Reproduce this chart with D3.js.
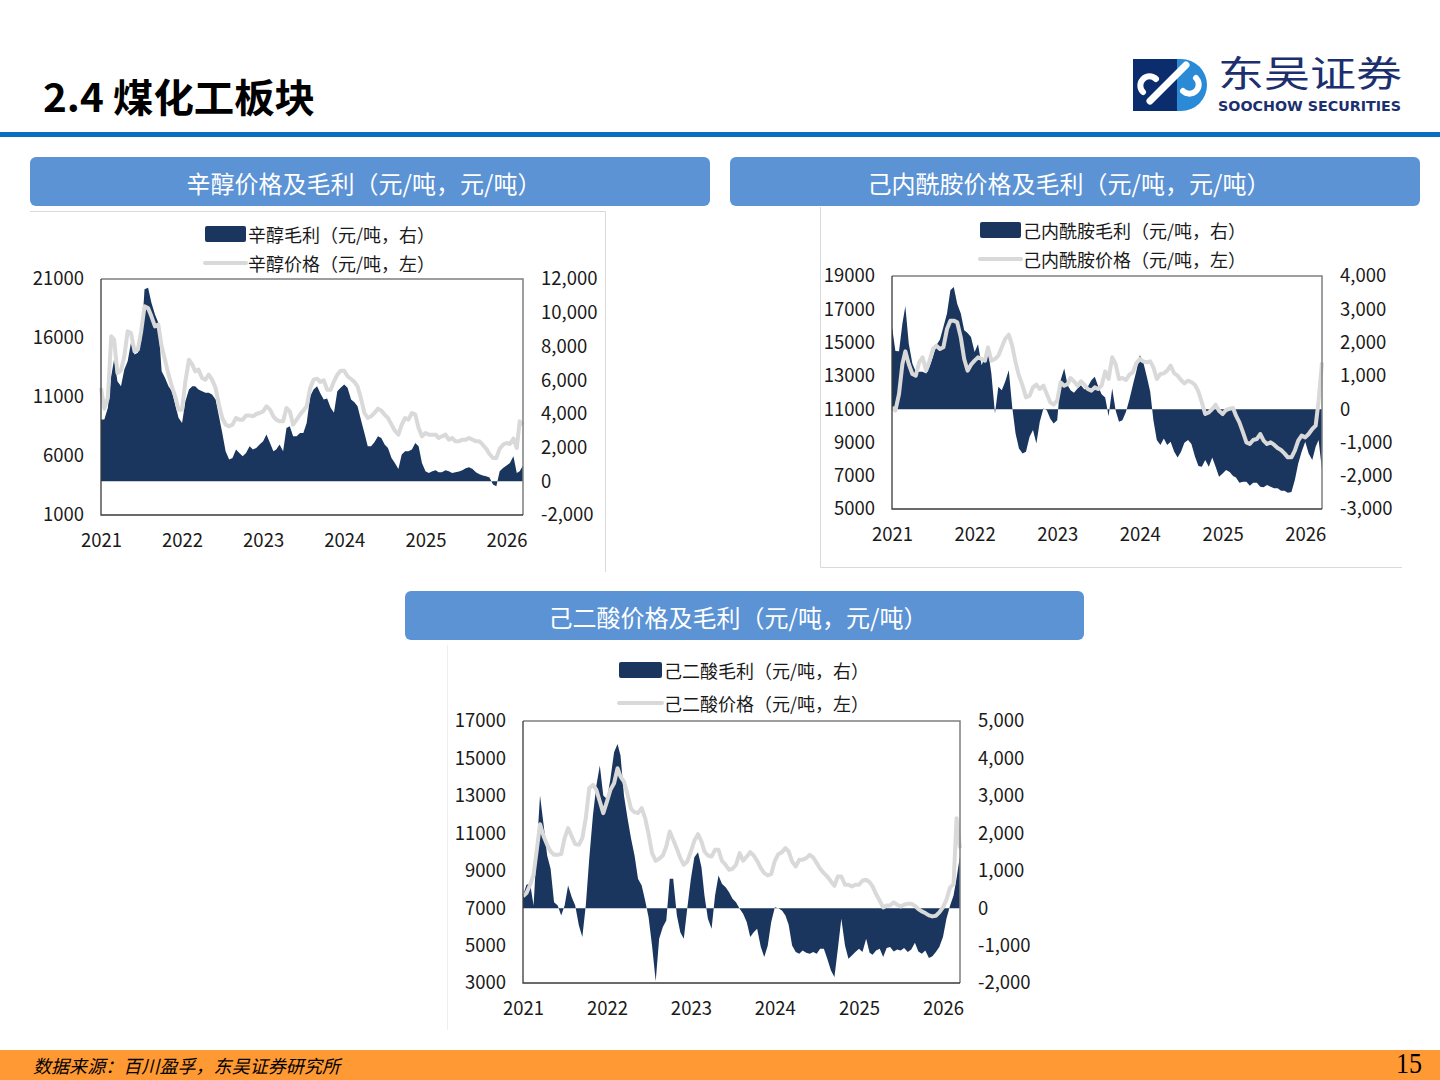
<!DOCTYPE html>
<html>
<head>
  <meta charset="utf-8">
  <style>
    body { margin: 0; background: #fff; }
    svg { display: block; font-family: "Noto Sans CJK SC", "Noto Sans", sans-serif; }
    .tick text { fill: #1a1a1a; }
  </style>
</head>
<body>
  <div id="page"></div>

  <script src="https://d3js.org/d3.v7.min.js"></script>

  <script>
    // half-month grid, Jan 2021 - mid Mar 2026
    var months = d3.timeMonths(new Date(2021, 0, 1), new Date(2026, 3, 1));
    var dates = months.flatMap(m => [m, new Date(m.getFullYear(), m.getMonth(), 16)]);
    var years = [2021, 2022, 2023, 2024, 2025, 2026];

    // 辛醇 (octanol)
    var octanolPrice = [11764,10012,10916,16142,15860,13035,13232,14447,16566,16425,14871,15013,16566,18685,18543,17837,16990,17131,15295,14165,12894,11905,11057,9927,9927,12329,14165,13740,13176,13317,12611,12470,12894,12470,11764,10351,9221,8656,8515,8656,9221,9080,9080,9441,9441,9363,9559,9645,9786,10210,9927,9363,9080,8939,8939,10069,9786,8656,9080,9504,9843,10210,11764,12470,
      12555,12273,12414,11622,11622,12329,12894,13232,13232,12753,12527,12273,11905,10916,9645,9221,9363,9645,10012,9843,9504,9221,8656,8148,7809,8656,9221,9080,9645,9504,8373,7668,7950,7809,7809,7809,7526,7668,7809,7385,7526,7244,7244,7385,7385,7526,7385,7244,7244,6961,6622,6170,5831,5831,6622,6961,7102,7018,7470,6679,8939,8656];
    var octanolProfit = [3663,3663,4356,6237,7227,5940,5643,6633,7128,8217,7524,7623,8316,11385,11484,10593,9900,9405,6534,6138,5643,5346,4554,3762,3465,4752,5445,5643,5643,5445,5346,5247,5247,5148,4851,3861,2871,1782,1287,1386,1881,1683,1485,1683,2079,1881,1980,2178,2376,2772,2277,1782,1881,2178,1782,3168,3267,2673,2673,2871,2871,3465,5049,5445,
      5643,5207,4851,4910,4356,4059,5346,5544,5742,5544,4851,4693,4455,3663,2871,2079,2079,2317,2673,2574,2178,1980,1386,1089,733,1584,1782,1782,1881,2277,2079,1089,594,495,594,653,535,535,653,594,495,535,574,653,772,832,733,535,416,337,297,218,-198,-297,594,792,931,1089,1485,495,594,931];

    // 己内酰胺 (caprolactam)
    var caproPrice = [11108,10908,11909,13712,14473,13712,13111,13011,13812,14112,13311,13912,14613,14814,14613,14714,15815,16316,16316,16216,15314,14013,13312,13672,13912,14113,14012,13912,14713,13912,14012,14213,14713,15214,15475,14814,13812,13011,12410,11709,11809,12310,12470,12210,12410,11909,11409,11268,11509,12610,12410,12510,12871,12670,12410,12670,12470,12210,12110,12310,12210,12410,
      13271,12811,14113,13712,12811,12871,12751,13071,13211,13752,14012,13872,13812,13872,13512,12811,13111,13151,13312,13612,13151,13011,12751,12550,12710,12630,12450,12050,11409,10707,10807,11008,11268,10908,10707,10948,11028,11068,10607,10207,9606,9005,8905,9145,9205,9506,9105,8905,9005,8865,8664,8544,8344,8104,8104,8504,9105,9406,9305,9506,9806,10007,11509,13800];
    var caproProfit = [2470,1750,1740,2570,3090,1970,1370,1120,1120,1120,1070,1270,1570,1920,2090,2470,2870,3570,3670,3170,2870,2370,2290,2170,1720,1950,1320,1570,1770,1070,-130,670,570,820,1170,70,-730,-1180,-1330,-1280,-830,-630,-1030,-380,20,-30,-280,-430,-330,870,1220,720,570,490,620,720,590,670,870,970,690,450,
      350,-210,620,-30,-380,-330,-80,290,720,1120,1620,1420,970,520,-330,-930,-1080,-880,-1080,-980,-1280,-1450,-1280,-1010,-930,-1050,-1430,-1710,-1730,-1530,-1730,-1450,-1730,-2030,-1930,-1830,-1890,-2010,-2050,-2210,-2180,-2180,-2300,-2210,-2210,-2330,-2350,-2280,-2330,-2380,-2380,-2450,-2450,-2510,-2490,-2130,-1630,-1280,-980,-1330,-1530,-1130,-930,-1830];

    // 己二酸 (adipic acid)
    var adipicPrice = [7626,7804,8249,8783,10028,11487,10829,10384,10028,9850,9850,9886,10740,11274,10829,10420,10384,10740,11807,13408,13586,13319,12697,12074,12697,13319,13675,14476,14031,13764,13052,12305,12127,12074,12341,11807,10953,9939,9530,9637,9815,10295,11096,10651,10171,9672,9317,9494,10028,10597,10953,10562,10028,9815,9761,10117,10117,9530,9317,9050,9103,9317,9939,
      9530,9761,9993,9815,9530,9139,8872,8747,8819,9530,9886,9993,10206,10028,9495,9228,9583,9583,9672,9850,9708,9405,9103,8872,8694,8427,8196,8694,8694,8249,8249,8160,8249,8249,8463,8516,8391,8160,7751,7395,7039,7146,7146,7306,7181,7093,7181,7234,7234,7128,6950,6826,6737,6612,6559,6594,6772,7039,7448,8107,8285,11800,10200];
    var adipicProfit = [338,623,650,71,1495,3008,2207,1406,1050,160,71,-196,71,605,294,71,-463,-774,71,1317,2474,3275,3809,3008,2919,3453,4165,4388,4076,3008,2385,1851,1406,783,605,205,-240,-997,-1950,-819,-507,-329,783,783,-196,-641,-819,-18,783,1362,1495,1095,338,-285,-552,338,872,650,561,427,249,160,-18,
      -151,-374,-774,-641,-552,-1041,-1308,-1006,-374,27,0,-62,-196,-445,-997,-1175,-1219,-1130,-1193,-1219,-1175,-1219,-1086,-1086,-1353,-1664,-1842,-1086,-285,-997,-1353,-1264,-1175,-1086,-1175,-819,-1193,-1246,-1130,-1086,-1308,-1068,-1041,-1157,-1104,-1130,-1068,-1175,-1104,-926,-1157,-1219,-1130,-1335,-1282,-1175,-1041,-774,-285,71,338,800,1400];

    var navy = '#1a365e', grey = '#d9d9d9', panelBlue = '#5b93d5';

    var svg = d3.select('#page')
        .append('svg')
        .attr('width', 1440)
        .attr('height', 1080);

    // ---- page header ----
    svg.append('text')
        .attr('x', 43).attr('y', 112)
        .attr('font-size', 39).attr('font-weight', 700)
        .attr('fill', '#000')
        .attr('textLength', 272).attr('lengthAdjust', 'spacingAndGlyphs')
        .text('2.4 煤化工板块');

    svg.append('rect')
        .attr('x', 0).attr('y', 132).attr('width', 1440).attr('height', 5)
        .attr('fill', '#0a6fc2');

    // logo
    var logo = svg.append('g');
    logo.append('path')
        .attr('d', 'M1168,59 H1181 A26,26 0 0 1 1181,111 H1168 Z')
        .attr('fill', '#2a8ad6');
    logo.append('rect')
        .attr('x', 1133).attr('y', 59).attr('width', 44).attr('height', 52)
        .attr('fill', '#0b2d6e');
    logo.append('path')
        .attr('d', 'M1150,101 L1172,79 M1168,83 L1186,65')
        .attr('stroke', '#fff').attr('stroke-width', 7).attr('stroke-linecap', 'round')
        .attr('fill', 'none');
    logo.append('path')
        .attr('d', 'M1143,92 A9,9 0 0 1 1156,79 M1196,78 A9,9 0 0 1 1183,91')
        .attr('stroke', '#fff').attr('stroke-width', 6).attr('stroke-linecap', 'round')
        .attr('fill', 'none');
    logo.append('text')
        .attr('x', 1218).attr('y', 87)
        .attr('font-size', 36).attr('fill', '#1c2f6e')
        .attr('textLength', 184).attr('lengthAdjust', 'spacingAndGlyphs')
        .text('东吴证券');
    logo.append('text')
        .attr('x', 1218).attr('y', 111)
        .attr('font-size', 13.5).attr('font-weight', 700).attr('fill', '#1c2f6e')
        .attr('font-family', '"DejaVu Sans", sans-serif')
        .attr('textLength', 183).attr('lengthAdjust', 'spacingAndGlyphs')
        .text('SOOCHOW SECURITIES');

    // ---- footer ----
    svg.append('rect')
        .attr('x', 0).attr('y', 1050).attr('width', 1440).attr('height', 30)
        .attr('fill', '#ff9933');
    svg.append('text')
        .attr('x', 33).attr('y', 1073)
        .attr('font-size', 18).attr('font-style', 'italic').attr('fill', '#000')
        .attr('textLength', 307).attr('lengthAdjust', 'spacingAndGlyphs')
        .text('数据来源：百川盈孚，东吴证券研究所');
    svg.append('text')
        .attr('x', 1422).attr('y', 1073).attr('text-anchor', 'end')
        .attr('font-size', 30).attr('fill', '#000')
        .attr('font-family', '"Liberation Serif", serif')
        .attr('textLength', 26).attr('lengthAdjust', 'spacingAndGlyphs')
        .text('15');

    // ---- panel headers ----
    function panel(x, y, w, tx, label) {
      svg.append('rect')
          .attr('x', x).attr('y', y).attr('width', w).attr('height', 49)
          .attr('rx', 6).attr('fill', panelBlue);
      svg.append('text')
          .attr('x', tx).attr('y', y + 25)
          .attr('text-anchor', 'middle').attr('dominant-baseline', 'central')
          .attr('font-size', 24).attr('fill', '#fff')
          .text(label);
    }
    panel(30, 157, 680, 364, '辛醇价格及毛利（元/吨，元/吨）');
    panel(730, 157, 690, 1069, '己内酰胺价格及毛利（元/吨，元/吨）');
    panel(405, 591, 679, 738, '己二酸价格及毛利（元/吨，元/吨）');

    // faint frames around the chart pictures
    svg.append('path')
        .attr('d', 'M30,211.5 H605.5 V572')
        .attr('stroke', '#d9d9d9').attr('fill', 'none');
    svg.append('path')
        .attr('d', 'M820.5,207 V567.5 H1402')
        .attr('stroke', '#d9d9d9').attr('fill', 'none');
    svg.append('path')
        .attr('d', 'M447.5,645 V1030')
        .attr('stroke', '#eeeeee').attr('fill', 'none');

    var fmtRight = v => d3.format(',')(v).replace('−', '-');

    function drawChart(c) {
      var x = d3.scaleTime()
          .domain([new Date(2021, 0, 1), new Date(2026, 2, 16)])
          .range([c.x0, c.x1]);
      var yL = d3.scaleLinear().domain(c.leftDomain).range([c.y1, c.y0]);
      var yR = d3.scaleLinear().domain(c.rightDomain).range([c.y1, c.y0]);

      var g = svg.append('g');

      var profit = dates.map((d, i) => ({date: d, v: c.profit[i]}));
      var price = dates.map((d, i) => ({date: d, v: c.price[i]}));

      g.append('path')
          .datum(profit)
          .attr('fill', navy)
          .attr('d', d3.area()
              .x(d => x(d.date))
              .y0(yR(0))
              .y1(d => yR(d.v)));

      g.append('path')
          .datum(price)
          .attr('fill', 'none')
          .attr('stroke', grey)
          .attr('stroke-width', 4)
          .attr('stroke-linejoin', 'round')
          .attr('d', d3.line()
              .x(d => x(d.date))
              .y(d => yL(d.v)));

      // plot frame: grey top/right, dark left/bottom
      g.append('path')
          .attr('d', `M${c.x0},${c.y0} H${c.x1} V${c.y1}`)
          .attr('stroke', '#7f7f7f').attr('stroke-width', 1.5).attr('fill', 'none');
      g.append('path')
          .attr('d', `M${c.x0},${c.y0} V${c.y1} H${c.x1}`)
          .attr('stroke', '#3a3a3a').attr('stroke-width', 1.3).attr('fill', 'none');

      // axes
      var ax = g.append('g')
          .attr('transform', `translate(0,${c.y1})`)
          .call(d3.axisBottom(x)
              .tickValues(years.map(yr => new Date(yr, 0, 1)))
              .tickFormat(d3.timeFormat('%Y'))
              .tickSize(0).tickPadding(19));
      var al = g.append('g')
          .attr('transform', `translate(${c.x0},0)`)
          .call(d3.axisLeft(yL).tickValues(c.leftTicks).tickFormat(d3.format('d'))
              .tickSize(0).tickPadding(17));
      var ar = g.append('g')
          .attr('transform', `translate(${c.x1},0)`)
          .call(d3.axisRight(yR).tickValues(c.rightTicks).tickFormat(fmtRight)
              .tickSize(0).tickPadding(18));
      [ax, al, ar].forEach(a => {
        a.select('.domain').remove();
        a.selectAll('text')
            .attr('font-size', 18.5)
            .attr('font-family', '"Noto Sans CJK SC", "Noto Sans", sans-serif');
      });

      // legend
      var lg = c.legend;
      g.append('rect')
          .attr('x', lg.x).attr('y', lg.y - 8).attr('width', lg.w).attr('height', 16)
          .attr('rx', 2).attr('fill', navy);
      g.append('text')
          .attr('x', lg.x + lg.w + 2).attr('y', lg.y)
          .attr('dominant-baseline', 'central')
          .attr('font-size', 18).attr('fill', '#1a1a1a')
          .text(c.names[0]);
      g.append('line')
          .attr('x1', lg.x).attr('x2', lg.x + lg.w)
          .attr('y1', lg.y2).attr('y2', lg.y2)
          .attr('stroke', grey).attr('stroke-width', 4).attr('stroke-linecap', 'round');
      g.append('text')
          .attr('x', lg.x + lg.w + 2).attr('y', lg.y2)
          .attr('dominant-baseline', 'central')
          .attr('font-size', 18).attr('fill', '#1a1a1a')
          .text(c.names[1]);
    }

    drawChart({
      x0: 101, x1: 523, y0: 279, y1: 515,
      leftDomain: [1000, 21000], leftTicks: [1000, 6000, 11000, 16000, 21000],
      rightDomain: [-2000, 12000], rightTicks: [-2000, 0, 2000, 4000, 6000, 8000, 10000, 12000],
      price: octanolPrice, profit: octanolProfit,
      names: ['辛醇毛利（元/吨，右）', '辛醇价格（元/吨，左）'],
      legend: {x: 205, y: 234, y2: 263, w: 41}
    });

    drawChart({
      x0: 892, x1: 1322, y0: 276, y1: 509,
      leftDomain: [5000, 19000], leftTicks: [5000, 7000, 9000, 11000, 13000, 15000, 17000, 19000],
      rightDomain: [-3000, 4000], rightTicks: [-3000, -2000, -1000, 0, 1000, 2000, 3000, 4000],
      price: caproPrice, profit: caproProfit,
      names: ['己内酰胺毛利（元/吨，右）', '己内酰胺价格（元/吨，左）'],
      legend: {x: 980, y: 230, y2: 259, w: 41}
    });

    drawChart({
      x0: 523, x1: 960, y0: 721, y1: 983,
      leftDomain: [3000, 17000], leftTicks: [3000, 5000, 7000, 9000, 11000, 13000, 15000, 17000],
      rightDomain: [-2000, 5000], rightTicks: [-2000, -1000, 0, 1000, 2000, 3000, 4000, 5000],
      price: adipicPrice, profit: adipicProfit,
      names: ['己二酸毛利（元/吨，右）', '己二酸价格（元/吨，左）'],
      legend: {x: 619, y: 670, y2: 703, w: 43}
    });
  </script>
</body>
</html>
